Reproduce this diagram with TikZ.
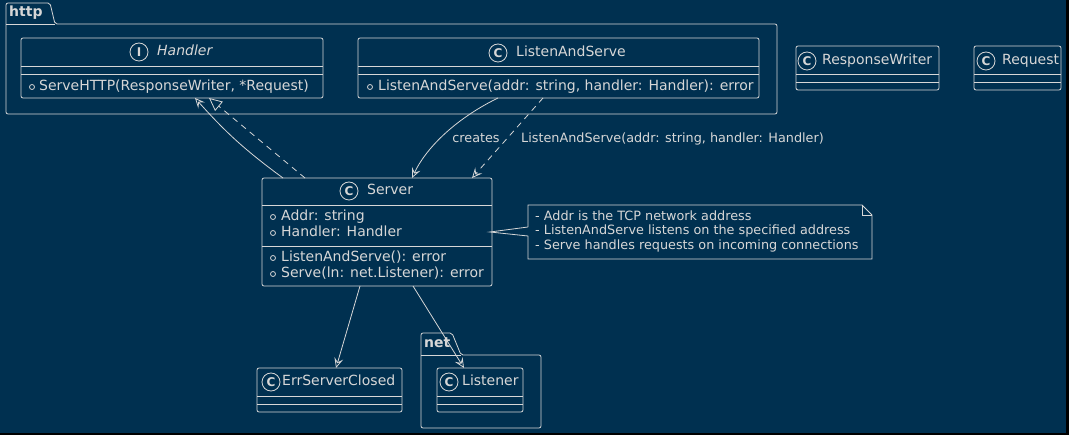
\documentclass[tikz,border=0pt]{standalone}
\usepackage{fontspec}
\setmainfont{DejaVu Sans}
\usetikzlibrary{arrows.meta}
\definecolor{bg}{RGB}{0,48,80}
\definecolor{fg}{RGB}{215,215,215}
\tikzset{
  classbox/.style={draw=fg, fill=bg, rounded corners=2pt, inner sep=0pt, outer sep=0pt, line width=0.8pt},
  cicon/.style={circle, draw=fg, line width=0.8pt, minimum size=18pt, inner sep=0pt, text=fg, font=\fontsize{12}{12}\selectfont\bfseries},
  cname/.style={anchor=west, inner sep=0pt, text=fg, font=\fontsize{14}{16}\selectfont, text height=10pt, text depth=3pt},
  pkgname/.style={cname, font=\fontsize{14}{16}\selectfont\bfseries},
  notetext/.style={anchor=west, inner sep=0pt, text=fg, font=\fontsize{12.8}{15}\selectfont, text height=9.5pt, text depth=3pt},
  link/.style={draw=fg, line width=0.8pt},
  uses/.style={link, -{Stealth[open, length=10pt, width=9pt, inset=4pt]}},
  realizes/.style={link, dash pattern=on 6pt off 5pt, -{Triangle[open, length=13pt, width=12pt]}},
  pkg/.style={draw=fg, line width=0.8pt, rounded corners=2pt}
}
\begin{document}
\begin{tikzpicture}[x=1pt, y=-1pt]
\useasboundingbox (0,0) rectangle (1069,435);
\fill[black] (0,0) rectangle (1069,435);
\fill[bg] (0,0) rectangle (1066,433);

\draw[pkg] (6,114) -- (6,3) -- (50,3) -- (55,24) -- (777,24) -- (777,114) -- cycle;
\draw[pkg] (6,24) -- (55,24);
\node[pkgname] (httplabel) at (9,13) {http};

\draw[pkg] (421,428) -- (421,333) -- (452,333) -- (461,355) -- (541,355) -- (541,428) -- cycle;
\draw[pkg] (421,355) -- (461,355);
\node[pkgname] (netlabel) at (424,344) {net};

\node[classbox, minimum width=302pt, minimum height=60pt] (handler) at (172,68) {};
\node[cicon] (handlericon) at (139,52) {I};
\node[cname] (handlername) at (157,52) {\itshape Handler};
\draw[link] (32,87) circle (2.5pt);
\node[cname] (handlerm) at (39,87) {ServeHTTP(ResponseWriter, *Request)};

\node[classbox, minimum width=401pt, minimum height=60pt] (lasv) at (558.5,68) {};
\node[cicon] (lasvicon) at (498,53) {C};
\node[cname] (lasvname) at (516,53) {ListenAndServe};
\draw[link] (370,87) circle (2.5pt);
\node[cname] (lasvm) at (378,87) {ListenAndServe(addr: string, handler: Handler): error};

\node[classbox, minimum width=143pt, minimum height=44pt] (rwriter) at (867.5,68) {};
\node[cicon] (rwritericon) at (807,61) {C};
\node[cname] (rwritername) at (822,61) {ResponseWriter};

\node[classbox, minimum width=87pt, minimum height=44pt] (request) at (1017.5,68) {};
\node[cicon] (requesticon) at (986,61) {C};
\node[cname] (requestname) at (1002,61) {Request};

\node[classbox, minimum width=230pt, minimum height=108pt] (server) at (377,232) {};
\node[cicon] (servericon) at (349,191) {C};
\node[cname] (servername) at (367,191) {Server};
\draw[link] ([yshift=-27pt]server.north west) -- ([yshift=-27pt]server.north east);
\draw[link] ([yshift=-68pt]server.north west) -- ([yshift=-68pt]server.north east);
\foreach \y in {217,233,258,274}
  \draw[link] (273,\y) circle (2.5pt);
\node[cname] (serveraddr) at (281,217) {Addr: string};
\node[cname] (serverhandler) at (281,233) {Handler: Handler};
\node[cname] (serverlas) at (281,258) {ListenAndServe(): error};
\node[cname] (serverserve) at (281,274) {Serve(ln: net.Listener): error};

\node[classbox, minimum width=145pt, minimum height=44pt] (errclosed) at (329.5,390) {};
\node[cicon] (errclosedicon) at (271,382) {C};
\node[cname] (errclosedname) at (282,382) {ErrServerClosed};

\node[classbox, minimum width=86pt, minimum height=44pt] (listener) at (480,390) {};
\node[cicon] (listenericon) at (449,382) {C};
\node[cname] (listenername) at (462,382) {Listener};

\foreach \c in {handler,lasv,rwriter,request,errclosed,listener}
  \foreach \d in {28,36}
    \draw[link] ([yshift=-\d pt]\c.north west) -- ([yshift=-\d pt]\c.north east);

\node[minimum width=344pt, minimum height=54pt, inner sep=0pt, outer sep=0pt] (note) at (700,232) {};
\draw[link] ([yshift=5pt]note.west) -- (note.north west) -- ([xshift=-10pt]note.north east)
  -- ([yshift=-10pt]note.north east) -- (note.south east) -- (note.south west) -- ([yshift=-4pt]note.west);
\draw[link] ([xshift=-10pt]note.north east) -- ([xshift=-10pt,yshift=-10pt]note.north east) -- ([yshift=-10pt]note.north east);
\draw[link] ([yshift=5pt]note.west) -- ([xshift=-2pt]server.east) -- ([yshift=-4pt]note.west);
\node[notetext] (notea) at (535,217) {- Addr is the TCP network address};
\node[notetext] (noteb) at (535,231) {- ListenAndServe listens on the specified address};
\node[notetext] (notec) at (535,246) {- Serve handles requests on incoming connections};

\draw[uses] ([xshift=-94pt]server.north) to[bend left=6] ([xshift=23pt]handler.south);
\draw[realizes] ([xshift=-72pt]server.north) -- ([xshift=37pt]handler.south);
\draw[uses] ([xshift=-60.5pt]lasv.south) .. controls +(-45,22) and +(13,-28) .. ([xshift=35pt]server.north);
\draw[uses, dash pattern=on 6pt off 5pt] ([xshift=-15.5pt]lasv.south) -- ([xshift=95pt]server.north);
\draw[uses] ([xshift=-17pt]server.south) -- ([xshift=6.5pt]errclosed.north);
\draw[uses] ([xshift=36pt]server.south) -- ([xshift=-16pt]listener.north);
\node[notetext, anchor=center] (lblcreates) at (476,139) {creates};
\node[notetext] (lbllas) at (521,139) {ListenAndServe(addr: string, handler: Handler)};
\end{tikzpicture}
\end{document}
